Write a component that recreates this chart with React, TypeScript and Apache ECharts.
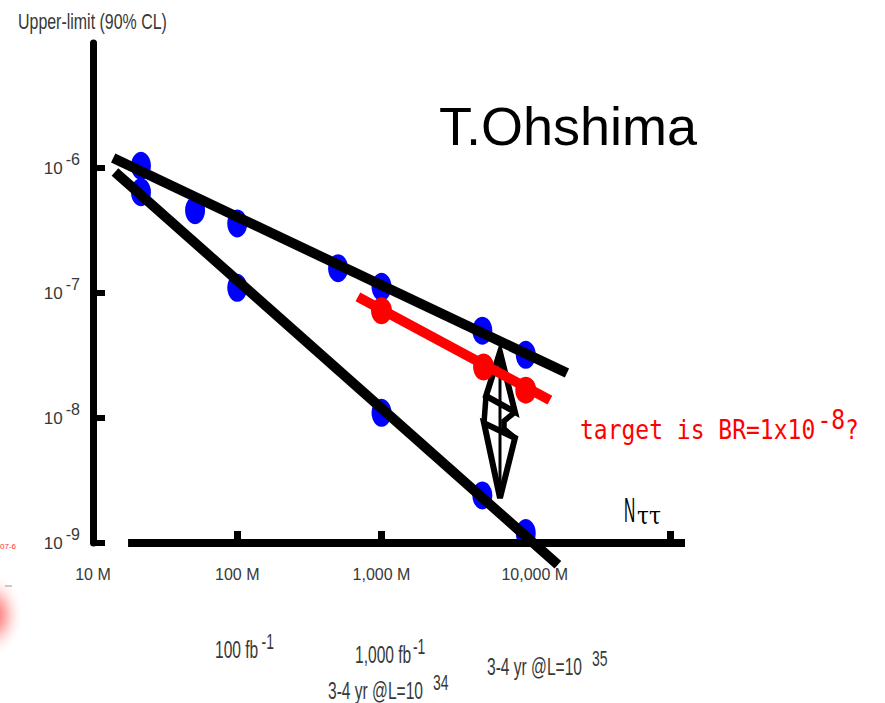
import { useEffect, useRef } from "react";
import * as echarts from "echarts";

const SANS = "'Liberation Sans', Arial, sans-serif";
const LABEL_COLOR = "#383838";

// x axis (N tau-tau)
const xLabelValues = [1e7, 1e8, 1e9, 1e10];
const xTickLabels = ["10 M", "100 M", "1,000 M", "10,000 M"];
const xTickValues = [1e8, 1e9, 1e10, 1e11];
// y axis (upper limit)
const yTickValues = [1e-9, 1e-8, 1e-7, 1e-6];

// blue measured / expected points [N, upper limit]
const bluePoints: [number, number][] = [
  [2.15e7, 1.04e-6],
  [2.15e7, 6.4e-7],
  [5.1e7, 4.6e-7],
  [1e8, 3.6e-7],
  [1e8, 1.1e-7],
  [5e8, 1.58e-7],
  [1e9, 1.12e-7],
  [1e9, 1.1e-8],
  [5e9, 5e-8],
  [1e10, 3.2e-8],
  [5e9, 2.4e-9],
  [1e10, 1.2e-9],
];
// red points
const redPoints: [number, number][] = [
  [1e9, 7.2e-8],
  [5.1e9, 2.56e-8],
  [1e10, 1.67e-8],
];
const redFit: [number, number][] = [
  [6.86e8, 9.3e-8],
  [1.47e10, 1.39e-8],
];
const upperFit: [number, number][] = [
  [1.38e7, 1.2e-6],
  [1.93e10, 2.29e-8],
];
const lowerFit: [number, number][] = [
  [1.42e7, 9.3e-7],
  [1.67e10, 6.7e-10],
];
const xAxisBar: [number, number][] = [
  [1.75e7, 1e-9],
  [1.27e11, 1e-9],
];

export default function App() {
  const ref = useRef<HTMLDivElement>(null);
  useEffect(() => {
    const chart = echarts.init(ref.current!, null, { renderer: "svg" });
    const fitLine = (data: [number, number][], color: string, z: number) => ({
      type: "line",
      data,
      symbol: "none",
      clip: false,
      silent: true,
      z,
      lineStyle: { color, width: 10, cap: "butt" },
    });
    const supText = (x: number, y: number, base: string, sup: string, gap: number) => ({
      type: "text",
      x,
      y,
      scaleX: 0.82,
      scaleY: 1.3,
      style: {
        text: `{a|${base}}{s|${sup}}`,
        align: "left",
        verticalAlign: "middle",
        rich: {
          a: { fontSize: 19, fontFamily: SANS, fill: LABEL_COLOR },
          s: { fontSize: 17, fontFamily: SANS, fill: LABEL_COLOR, padding: [0, 0, 12, gap] },
        },
      },
    });
    chart.setOption({
      animation: false,
      backgroundColor: "#ffffff",
      grid: { left: 93, right: 200, top: 43, bottom: 160, containLabel: false },
      xAxis: {
        type: "log",
        logBase: 10,
        min: 1e7,
        max: 1.27e11,
        axisLine: { show: false },
        splitLine: { show: false },
        axisTick: {
          show: true,
          inside: true,
          length: 12,
          customValues: xTickValues,
          lineStyle: { color: "#000", width: 7 },
        },
        axisLabel: {
          customValues: xLabelValues,
          margin: 23,
          fontSize: 16,
          fontFamily: SANS,
          color: LABEL_COLOR,
          formatter: (v: number) => {
            const i = Math.round(Math.log10(v)) - 7;
            const t = xTickLabels[i] ?? "";
            return i === 3 ? `{r|${t}}` : t;
          },
          rich: {
            r: { fontSize: 16, fontFamily: SANS, color: LABEL_COLOR, padding: [0, 0, 0, 18] },
          },
        },
      },
      yAxis: {
        type: "log",
        logBase: 10,
        min: 1e-9,
        max: 1e-5,
        splitLine: { show: false },
        axisLine: { show: true, lineStyle: { color: "#000", width: 7 } },
        axisTick: {
          show: true,
          inside: true,
          length: 12,
          customValues: yTickValues,
          lineStyle: { color: "#000", width: 6 },
        },
        axisLabel: {
          customValues: yTickValues,
          margin: 13,
          formatter: (v: number) => `{b|10}{s|${Math.round(Math.log10(v))}}`,
          rich: {
            b: { fontSize: 17, fontFamily: SANS, color: LABEL_COLOR },
            s: { fontSize: 16, fontFamily: SANS, color: LABEL_COLOR, padding: [0, 0, 18, 3] },
          },
        },
      },
      graphic: [
        {
          type: "text",
          x: 18,
          y: 21,
          scaleX: 0.84,
          scaleY: 1.2,
          style: { text: "Upper-limit (90% CL)", fontSize: 19, fontFamily: SANS, fill: LABEL_COLOR, align: "left", verticalAlign: "middle" },
        },
        {
          type: "text",
          x: 439,
          y: 126,
          style: { text: "T.Ohshima", fontSize: 54, fontFamily: SANS, fill: "#000", align: "left", verticalAlign: "middle" },
        },
        {
          type: "text",
          x: 624,
          y: 510,
          scaleX: 0.65,
          scaleY: 1.45,
          style: { text: "N", fontSize: 24, fontFamily: SANS, fill: "#000", align: "left", verticalAlign: "middle" },
        },
        {
          type: "text",
          x: 637,
          y: 516,
          scaleX: 0.9,
          style: { text: "ττ", fontSize: 24, fontFamily: "'DejaVu Serif', serif", fill: "#000", align: "left", verticalAlign: "middle" },
        },
        {
          type: "text",
          x: 580,
          y: 430,
          scaleY: 1.15,
          style: {
            text: "{a|target is BR=1x10}{s|-8}{a|?}",
            align: "left",
            verticalAlign: "middle",
            rich: {
              a: { fontSize: 23, fontFamily: "'DejaVu Sans Mono', monospace", fill: "#ff0000" },
              s: { fontSize: 23, fontFamily: "'DejaVu Sans Mono', monospace", fill: "#ff0000", padding: [0, 0, 18, 2] },
            },
          },
        },
        supText(215, 649, "100 fb", "-1", 4),
        supText(355, 654, "1,000 fb", "-1", 2),
        supText(328, 690, "3-4 yr @L=10", "34", 12),
        supText(487, 666, "3-4 yr @L=10", "35", 12),
        // double-headed arrow
        {
          type: "group",
          children: [
            { type: "polygon", shape: { points: [[500, 352], [486, 396], [515, 412]] }, style: { stroke: "#000", lineWidth: 6, fill: "#fff", lineJoin: "miter" } },
            { type: "polygon", shape: { points: [[500, 498], [484, 423], [515, 438]] }, style: { stroke: "#000", lineWidth: 6, fill: "#fff", lineJoin: "miter" } },
            { type: "polyline", shape: { points: [[486, 396], [484, 423]] }, style: { stroke: "#000", lineWidth: 5.5 } },
            { type: "polyline", shape: { points: [[515, 412], [504, 421], [504, 429], [515, 438]] }, style: { stroke: "#000", lineWidth: 5.5, fill: null } },
            { type: "line", shape: { x1: 500, y1: 356, x2: 500, y2: 494 }, style: { stroke: "#000", lineWidth: 3 } },
          ],
        },
        // left-edge artefacts of the original slide
        {
          type: "ellipse",
          shape: { cx: -8, cy: 615, rx: 32, ry: 42 },
          style: {
            fill: new echarts.graphic.RadialGradient(0.5, 0.5, 0.5, [
              { offset: 0, color: "rgba(255,50,50,0.9)" },
              { offset: 0.45, color: "rgba(255,110,110,0.5)" },
              { offset: 1, color: "rgba(255,255,255,0)" },
            ]),
          },
        },
        {
          type: "text",
          x: 0,
          y: 546,
          style: { text: "07-6", fontSize: 8, fontFamily: SANS, fill: "#ff3030", align: "left", verticalAlign: "middle" },
        },
        { type: "line", shape: { x1: 5, y1: 586, x2: 12, y2: 586 }, style: { stroke: "#999", lineWidth: 1 } },
      ],
      series: [
        {
          type: "scatter",
          data: bluePoints,
          symbol: "circle",
          symbolSize: [20, 28],
          itemStyle: { color: "#0000ff", opacity: 1 },
          silent: true,
          z: 2,
        },
        fitLine(upperFit, "#000", 3),
        fitLine(lowerFit, "#000", 3),
        { ...fitLine(xAxisBar, "#000", 3), lineStyle: { color: "#000", width: 8, cap: "butt" } },
        fitLine(redFit, "#ff0000", 4),
        {
          type: "scatter",
          data: redPoints,
          symbol: "circle",
          symbolSize: [21, 27],
          itemStyle: { color: "#ff0000", opacity: 1 },
          silent: true,
          z: 5,
        },
      ],
    });
    return () => chart.dispose();
  }, []);
  return (
    <div
      ref={ref}
      style={{ position: "absolute", left: 0, top: 0, width: 885, height: 703, background: "#fff" }}
    />
  );
}
